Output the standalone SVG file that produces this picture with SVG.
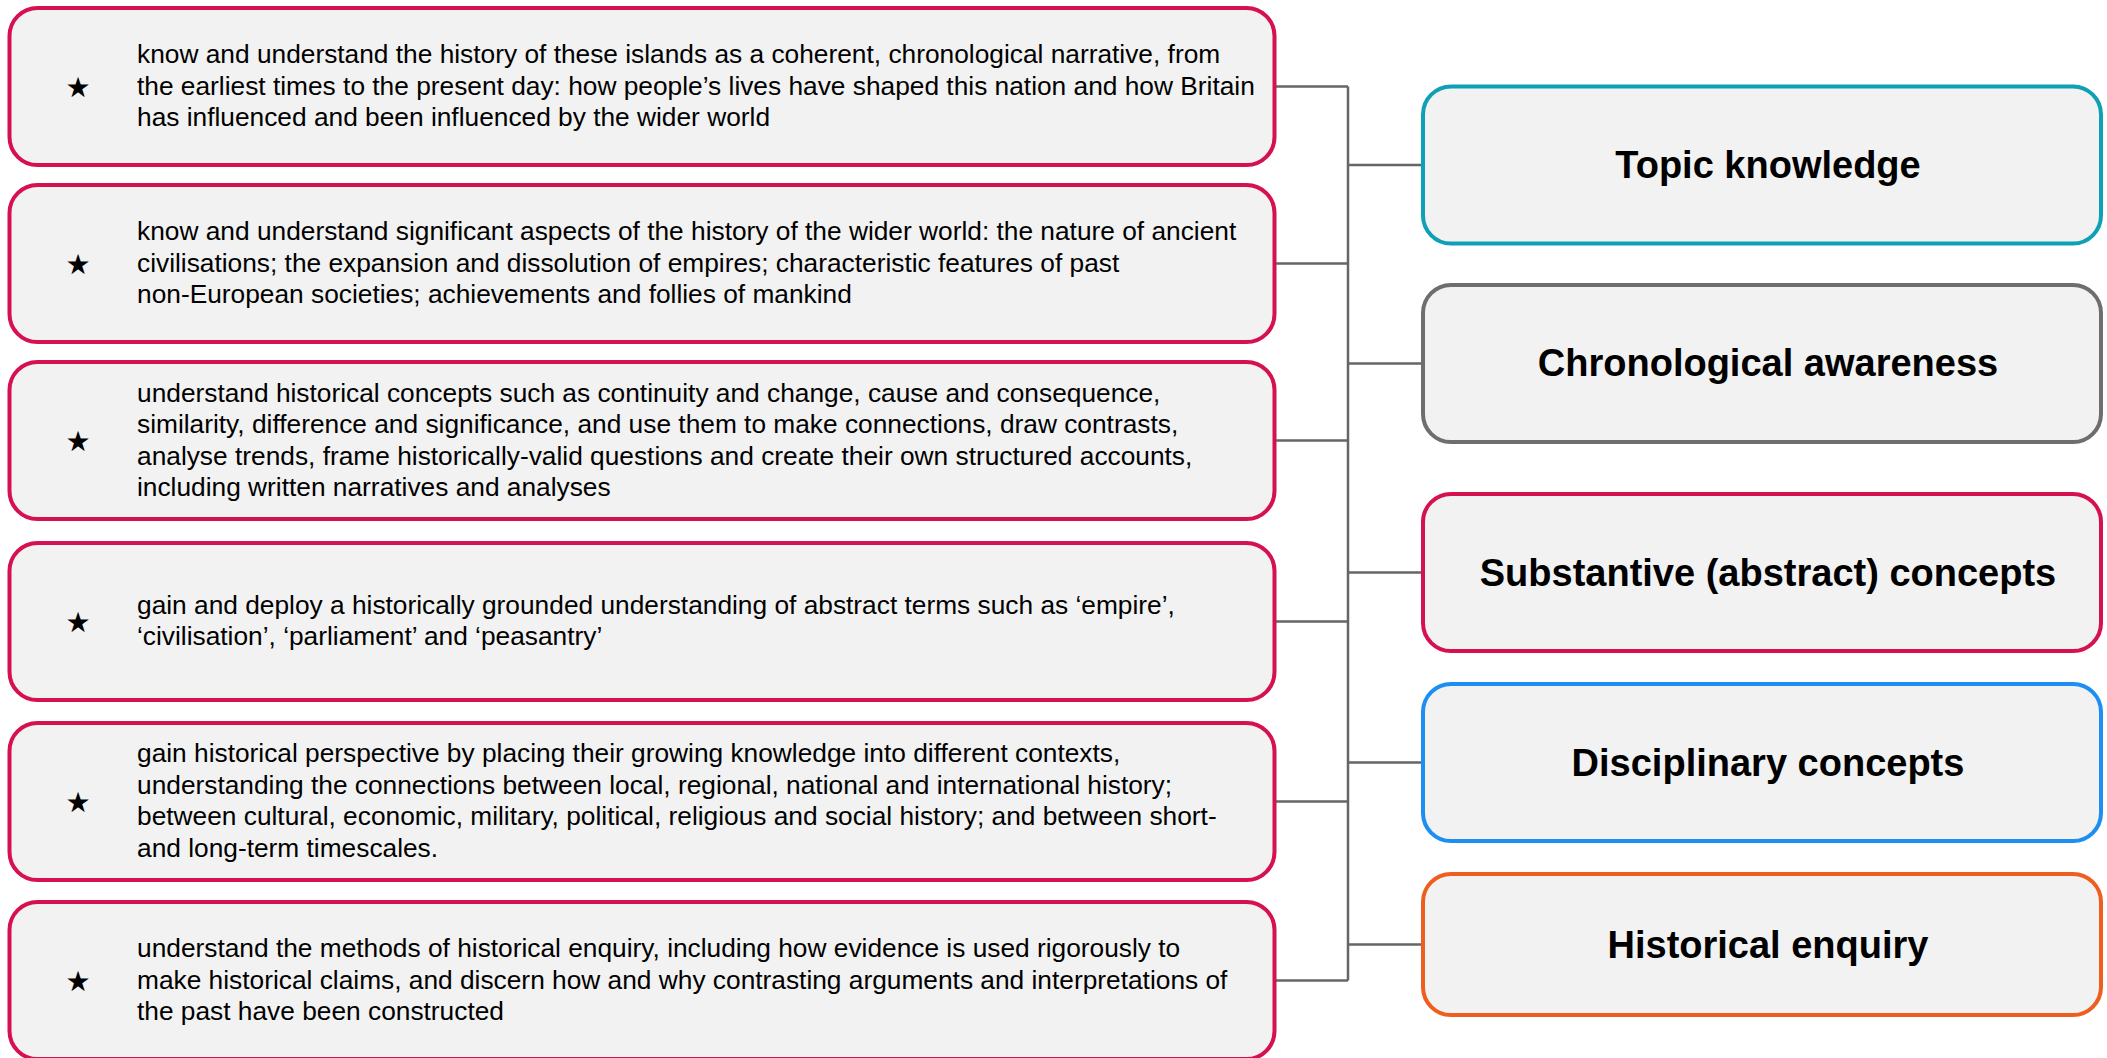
<svg xmlns="http://www.w3.org/2000/svg" width="2107" height="1058" viewBox="0 0 2107 1058">
<style>
.lbox{fill:#f2f2f2;stroke:#d6114f;stroke-width:4}
.rbox{fill:#f2f2f2;stroke-width:4}
.body{font-family:"Liberation Sans",Arial,sans-serif;font-size:26.3px;fill:#000}
.star{font-family:"DejaVu Sans",sans-serif;font-size:28px;fill:#000;text-anchor:middle}
.title{font-family:"Liberation Sans",Arial,sans-serif;font-size:38px;font-weight:bold;fill:#000;text-anchor:middle}
.conn{stroke:#666666;stroke-width:2.5;fill:none}
</style>
<rect width="2107" height="1058" fill="#ffffff"/>
<g id="connectors">
<path class="conn" d="M1348,86.5 V980.5"/>
<path class="conn" d="M1275,86.5 H1348 M1275,263.5 H1348 M1275,440.5 H1348 M1275,621.5 H1348 M1275,801.5 H1348 M1275,980.5 H1348"/>
<path class="conn" d="M1348,165 H1423 M1348,363.5 H1423 M1348,572.5 H1423 M1348,762.5 H1423 M1348,944.5 H1423"/>
</g>
<g id="aim1">
<rect class="lbox" x="9.5" y="8" width="1265" height="157" rx="28"/>
<text class="star" x="78" y="96.5">★</text>
<text class="body"><tspan x="137" y="63">know and understand the history of these islands as a coherent, chronological narrative, from</tspan><tspan x="137" y="94.5">the earliest times to the present day: how people’s lives have shaped this nation and how Britain</tspan><tspan x="137" y="126">has influenced and been influenced by the wider world</tspan></text>
</g>
<g id="aim2">
<rect class="lbox" x="9.5" y="185" width="1265" height="157" rx="28"/>
<text class="star" x="78" y="273.5">★</text>
<text class="body"><tspan x="137" y="240">know and understand significant aspects of the history of the wider world: the nature of ancient</tspan><tspan x="137" y="271.5">civilisations; the expansion and dissolution of empires; characteristic features of past</tspan><tspan x="137" y="303">non-European societies; achievements and follies of mankind</tspan></text>
</g>
<g id="aim3">
<rect class="lbox" x="9.5" y="362" width="1265" height="157" rx="28"/>
<text class="star" x="78" y="450.5">★</text>
<text class="body"><tspan x="137" y="401.5">understand historical concepts such as continuity and change, cause and consequence,</tspan><tspan x="137" y="433">similarity, difference and significance, and use them to make connections, draw contrasts,</tspan><tspan x="137" y="464.5">analyse trends, frame historically-valid questions and create their own structured accounts,</tspan><tspan x="137" y="496">including written narratives and analyses</tspan></text>
</g>
<g id="aim4">
<rect class="lbox" x="9.5" y="543" width="1265" height="157" rx="28"/>
<text class="star" x="78" y="631.5">★</text>
<text class="body"><tspan x="137" y="613.75">gain and deploy a historically grounded understanding of abstract terms such as ‘empire’,</tspan><tspan x="137" y="645.25">‘civilisation’, ‘parliament’ and ‘peasantry’</tspan></text>
</g>
<g id="aim5">
<rect class="lbox" x="9.5" y="723" width="1265" height="157" rx="28"/>
<text class="star" x="78" y="811.5">★</text>
<text class="body"><tspan x="137" y="762.25">gain historical perspective by placing their growing knowledge into different contexts,</tspan><tspan x="137" y="793.75">understanding the connections between local, regional, national and international history;</tspan><tspan x="137" y="825.25">between cultural, economic, military, political, religious and social history; and between short-</tspan><tspan x="137" y="856.75">and long-term timescales.</tspan></text>
</g>
<g id="aim6">
<rect class="lbox" x="9.5" y="902" width="1265" height="157" rx="28"/>
<text class="star" x="78" y="990.5">★</text>
<text class="body"><tspan x="137" y="957">understand the methods of historical enquiry, including how evidence is used rigorously to</tspan><tspan x="137" y="988.5">make historical claims, and discern how and why contrasting arguments and interpretations of</tspan><tspan x="137" y="1020">the past have been constructed</tspan></text>
</g>
<g id="topic-knowledge">
<rect class="rbox" x="1423" y="86.5" width="678" height="157" rx="28" stroke="#0ea0b4"/>
<text class="title" x="1768" y="178">Topic knowledge</text>
</g>
<g id="chronological-awareness">
<rect class="rbox" x="1423" y="285" width="678" height="157" rx="28" stroke="#6e6e6e"/>
<text class="title" x="1768" y="376">Chronological awareness</text>
</g>
<g id="substantive-concepts">
<rect class="rbox" x="1423" y="494" width="678" height="157" rx="28" stroke="#d6114f"/>
<text class="title" x="1768" y="585.5">Substantive (abstract) concepts</text>
</g>
<g id="disciplinary-concepts">
<rect class="rbox" x="1423" y="684" width="678" height="157" rx="28" stroke="#1e8ff2"/>
<text class="title" x="1768" y="775.5">Disciplinary concepts</text>
</g>
<g id="historical-enquiry">
<rect class="rbox" x="1423" y="874" width="678" height="141" rx="28" stroke="#ee5e1e"/>
<text class="title" x="1768" y="957.5">Historical enquiry</text>
</g>
</svg>
